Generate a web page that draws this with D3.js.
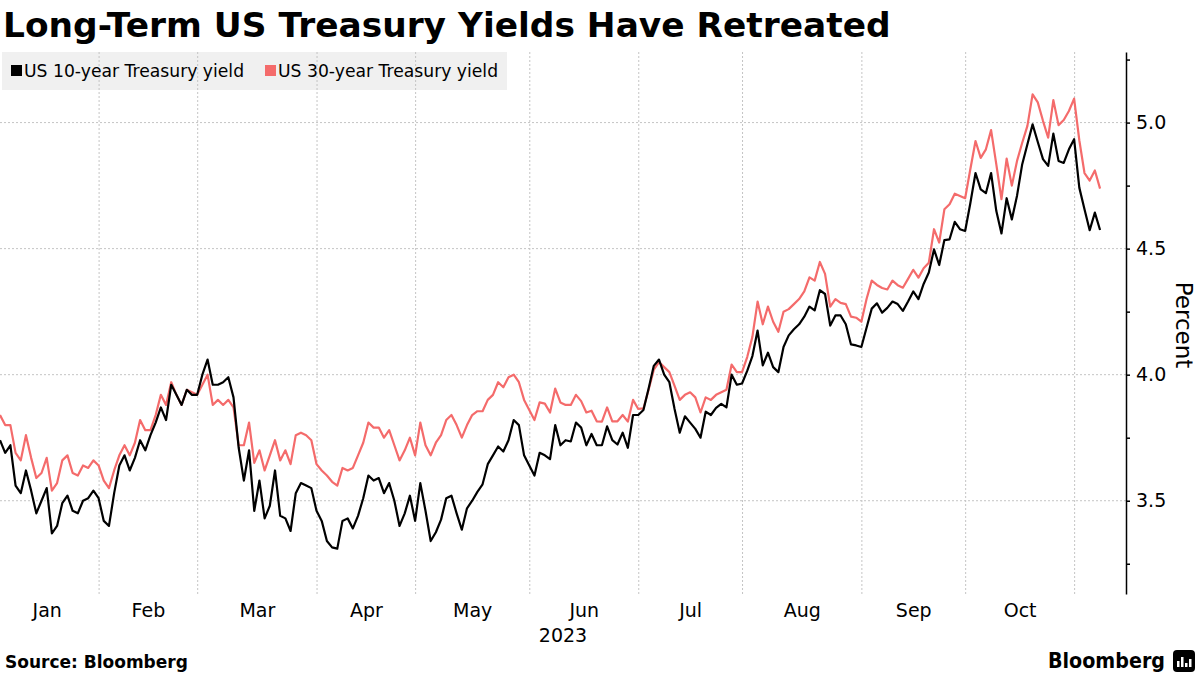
<!DOCTYPE html>
<html>
<head>
<meta charset="utf-8">
<script src="https://cdn.jsdelivr.net/npm/d3@7"></script>
<style>
  body { margin: 0; background: #fff; }
  svg { display: block; font-family: 'DejaVu Sans', sans-serif; }
</style>
</head>
<body>
<svg width="1200" height="675"></svg>
<script>
// trading days per month (bond market), Jan 3 2023 .. Nov 7 2023
const monthNames = ['Jan', 'Feb', 'Mar', 'Apr', 'May', 'Jun', 'Jul', 'Aug', 'Sep', 'Oct', 'Nov']
const monthDays = [20, 19, 23, 19, 22, 21, 20, 23, 20, 21, 5]

// US 10-year Treasury yield, one value per trading day
const yield10 = [
  3.74, 3.69, 3.72, 3.56, 3.53, 3.62, 3.54, 3.45, 3.50, 3.55, 3.37, 3.40, 3.49, 3.52, 3.46, 3.45, 3.50, 3.51, 3.54, 3.51,
  3.42, 3.40, 3.53, 3.64, 3.68, 3.62, 3.67, 3.74, 3.70, 3.76, 3.81, 3.87, 3.82, 3.96, 3.92, 3.88, 3.94, 3.92, 3.92,
  4.00, 4.06, 3.96, 3.96, 3.97, 3.99, 3.91, 3.71, 3.58, 3.70, 3.46, 3.58, 3.43, 3.48, 3.62, 3.44, 3.43, 3.38, 3.53, 3.57, 3.56, 3.55, 3.46,
  3.42, 3.34, 3.315, 3.31, 3.42, 3.43, 3.39, 3.44, 3.51, 3.60, 3.58, 3.59, 3.53, 3.57, 3.50, 3.40, 3.45, 3.52, 3.42,
  3.57, 3.46, 3.34, 3.375, 3.425, 3.51, 3.52, 3.45, 3.385, 3.47, 3.50, 3.535, 3.565, 3.645, 3.68, 3.715, 3.695, 3.74, 3.82, 3.80, 3.68, 3.64,
  3.60, 3.69, 3.68, 3.665, 3.80, 3.72, 3.74, 3.735, 3.81, 3.79, 3.72, 3.765, 3.72, 3.72, 3.795, 3.74, 3.723, 3.77, 3.71, 3.84, 3.84,
  3.86, 3.945, 4.035, 4.06, 4.00, 3.97, 3.864, 3.77, 3.835, 3.81, 3.785, 3.75, 3.853, 3.84, 3.868, 3.884, 3.87, 4.00, 3.96, 3.965,
  4.015, 4.074, 4.175, 4.037, 4.087, 4.03, 4.01, 4.11, 4.156, 4.18, 4.20, 4.23, 4.27, 4.255, 4.335, 4.32, 4.195, 4.235, 4.235, 4.20, 4.12, 4.116, 4.11,
  4.186, 4.262, 4.283, 4.246, 4.265, 4.29, 4.28, 4.253, 4.29, 4.33, 4.30, 4.36, 4.405, 4.497, 4.435, 4.534, 4.537, 4.606, 4.577, 4.57,
  4.68, 4.80, 4.735, 4.72, 4.80, 4.65, 4.56, 4.70, 4.616, 4.71, 4.835, 4.914, 4.993, 4.923, 4.855, 4.828, 4.956, 4.848, 4.84, 4.894, 4.934,
  4.742, 4.656, 4.573, 4.643, 4.574
]

// US 30-year Treasury yield
const yield30 = [
  3.84, 3.80, 3.80, 3.69, 3.66, 3.76, 3.67, 3.59, 3.61, 3.67, 3.54, 3.57, 3.66, 3.68, 3.61, 3.60, 3.64, 3.63, 3.66, 3.64,
  3.58, 3.55, 3.62, 3.68, 3.72, 3.68, 3.73, 3.82, 3.78, 3.78, 3.84, 3.92, 3.88, 3.97, 3.92, 3.88, 3.94, 3.93, 3.92,
  3.96, 4.00, 3.88, 3.90, 3.88, 3.90, 3.87, 3.72, 3.72, 3.81, 3.65, 3.70, 3.62, 3.68, 3.74, 3.66, 3.70, 3.645, 3.76, 3.77, 3.76, 3.74, 3.645,
  3.62, 3.60, 3.575, 3.56, 3.63, 3.62, 3.63, 3.68, 3.73, 3.81, 3.79, 3.79, 3.75, 3.78, 3.72, 3.66, 3.70, 3.75, 3.68,
  3.81, 3.72, 3.68, 3.73, 3.76, 3.82, 3.84, 3.80, 3.75, 3.80, 3.84, 3.855, 3.855, 3.90, 3.92, 3.97, 3.95, 3.99, 4.00, 3.97, 3.90, 3.86,
  3.82, 3.89, 3.885, 3.85, 3.945, 3.89, 3.88, 3.88, 3.92, 3.895, 3.85, 3.857, 3.815, 3.814, 3.87, 3.815, 3.815, 3.84, 3.814, 3.90, 3.864,
  3.866, 3.94, 4.02, 4.05, 4.03, 4.01, 3.956, 3.90, 3.92, 3.93, 3.91, 3.85, 3.91, 3.90, 3.92, 3.93, 3.94, 4.04, 4.01, 4.01,
  4.07, 4.15, 4.29, 4.20, 4.27, 4.21, 4.17, 4.25, 4.26, 4.28, 4.30, 4.33, 4.386, 4.373, 4.447, 4.40, 4.27, 4.30, 4.285, 4.28, 4.23, 4.226, 4.21,
  4.30, 4.373, 4.356, 4.344, 4.338, 4.373, 4.355, 4.345, 4.38, 4.416, 4.385, 4.422, 4.444, 4.577, 4.524, 4.656, 4.676, 4.718, 4.709, 4.70,
  4.815, 4.927, 4.86, 4.894, 4.97, 4.835, 4.696, 4.857, 4.75, 4.848, 4.92, 4.987, 5.112, 5.08, 5.007, 4.94, 5.089, 4.99, 5.01, 5.046, 5.095,
  4.93, 4.80, 4.77, 4.81, 4.738
]

const seriesNames = ['US 10-year Treasury yield', 'US 30-year Treasury yield']
const seriesColors = ['#000000', '#f46b6b']
const yTicks = [3.25, 3.5, 3.75, 4.0, 4.25, 4.5, 4.75, 5.0, 5.25]
const yLabels = [3.5, 4.0, 4.5, 5.0]

const svg = d3.select('svg')

// plot area: right axis at x=1126
const plotRight = 1126
const plotTop = 52
const plotBottom = 594

const xScale = d3.scaleLinear()
  .domain([0, 217])
  .range([0, plotRight])

const yScale = d3.scaleLinear()
  .domain([3.13, 5.28])
  .range([plotBottom, plotTop])

// month start index (cumulative trading days)
const monthStart = monthDays.map((n, i) => d3.sum(monthDays.slice(0, i)))

// title
svg.append('text')
  .attr('x', 3)
  .attr('y', 37)
  .attr('font-size', 34.4)
  .attr('font-weight', 'bold')
  .text('Long-Term US Treasury Yields Have Retreated')

// legend background (gridlines show on top of it)
svg.append('rect')
  .attr('x', 2)
  .attr('y', 52)
  .attr('width', 505)
  .attr('height', 38)
  .attr('fill', '#f0f0f0')

// horizontal grid
svg.append('g')
  .selectAll('line')
  .data(yLabels)
  .enter()
  .append('line')
  .attr('x1', 0)
  .attr('x2', plotRight)
  .attr('y1', (d) => yScale(d))
  .attr('y2', (d) => yScale(d))
  .attr('stroke', '#c4c4c4')
  .attr('stroke-dasharray', '2,2')

// vertical grid at month boundaries
svg.append('g')
  .selectAll('line')
  .data(monthStart.slice(1))
  .enter()
  .append('line')
  .attr('x1', (d) => xScale(d - 0.9))
  .attr('x2', (d) => xScale(d - 0.9))
  .attr('y1', plotTop)
  .attr('y2', plotBottom)
  .attr('stroke', '#c4c4c4')
  .attr('stroke-dasharray', '2,2')

// legend items
const legend = svg.append('g')
  .selectAll('g')
  .data(seriesNames)
  .enter()
  .append('g')
  .attr('transform', (d, i) => `translate(${i === 0 ? 11 : 265}, 0)`)

legend.append('rect')
  .attr('x', 0)
  .attr('y', 65)
  .attr('width', 11)
  .attr('height', 11)
  .attr('fill', (d, i) => seriesColors[i])

legend.append('text')
  .attr('x', 13)
  .attr('y', 77)
  .attr('font-size', 17.2)
  .attr('fill', '#000')
  .text((d) => d)

// lines
const line = d3.line()
  .x((d, i) => xScale(i))
  .y((d) => yScale(d))

svg.append('g')
  .selectAll('path')
  .data([yield30, yield10])
  .enter()
  .append('path')
  .attr('d', (d) => line(d))
  .attr('fill', 'none')
  .attr('stroke', (d, i) => i === 0 ? seriesColors[1] : seriesColors[0])
  .attr('stroke-width', 2.2)
  .attr('stroke-linejoin', 'round')

// right y axis
const yAxis = d3.axisRight(yScale)
  .tickValues(yTicks)
  .tickSize(4)
  .tickSizeOuter(0)
  .tickPadding(6)
  .tickFormat((d) => yLabels.includes(d) ? d.toFixed(1) : '')

const yAxisG = svg.append('g')
  .attr('transform', `translate(${plotRight}, 0)`)
  .call(yAxis)

yAxisG.select('.domain').attr('stroke', '#000').attr('stroke-width', 1.5)
yAxisG.selectAll('.tick line').attr('stroke', '#000').attr('stroke-width', 1.5)
yAxisG.selectAll('.tick text')
  .attr('font-size', 19)
  .attr('font-family', "'DejaVu Sans', sans-serif")
  .attr('fill', '#000')

svg.append('text')
  .attr('transform', 'translate(1176, 325) rotate(90)')
  .attr('text-anchor', 'middle')
  .attr('font-size', 23)
  .text('Percent')

// month labels, centred in each month
svg.append('g')
  .selectAll('text')
  .data(monthNames.slice(0, 10))
  .enter()
  .append('text')
  .attr('x', (d, i) => xScale(monthStart[i] + monthDays[i] / 2 - 0.9))
  .attr('y', 617)
  .attr('text-anchor', 'middle')
  .attr('font-size', 19)
  .text((d) => d)

svg.append('text')
  .attr('x', plotRight / 2)
  .attr('y', 642)
  .attr('text-anchor', 'middle')
  .attr('font-size', 19)
  .text('2023')

// footer
svg.append('text')
  .attr('x', 5)
  .attr('y', 668)
  .attr('font-size', 17)
  .attr('font-weight', 'bold')
  .text('Source: Bloomberg')

svg.append('text')
  .attr('x', 1048)
  .attr('y', 668)
  .attr('font-size', 22)
  .attr('font-weight', 'bold')
  .attr('textLength', 117)
  .attr('lengthAdjust', 'spacingAndGlyphs')
  .text('Bloomberg')

// small logo mark
const logo = svg.append('g').attr('transform', 'translate(1173, 650)')
logo.append('rect')
  .attr('width', 22)
  .attr('height', 22)
  .attr('rx', 4)
  .attr('fill', '#000')
logo.selectAll('.bar')
  .data([6, 10, 4, 8])
  .enter()
  .append('rect')
  .attr('x', (d, i) => 4 + i * 4)
  .attr('y', (d) => 17 - d)
  .attr('width', 2.5)
  .attr('height', (d) => d)
  .attr('fill', '#fff')
</script>
</body>
</html>
